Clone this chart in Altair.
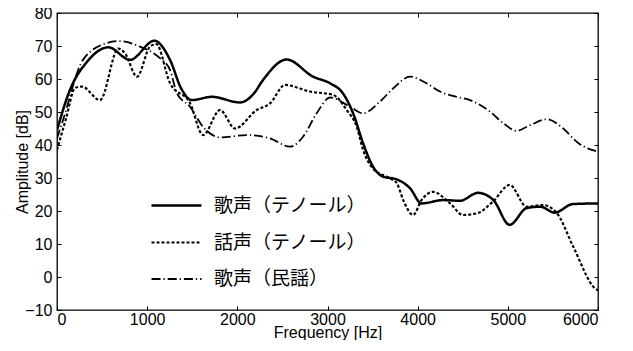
import altair as alt
import pandas as pd

series_names = ["歌声（テノール）", "話声（テノール）", "歌声（民謡）"]

# 歌声（テノール） — solid
sing_tenor_freq = [0, 144, 333, 570, 810, 1080, 1250, 1380, 1494, 1716, 2030, 2180, 2285, 2547, 2840, 3028,
                   3170, 3284, 3395, 3506, 3617, 3767, 3915, 4043, 4281, 4470, 4669, 4840, 5020, 5210,
                   5360, 5520, 5720, 6000]
sing_tenor_amp = [44.5, 56.7, 65.2, 69.6, 65.8, 71.6, 66.0, 57.0, 53.6, 54.6, 52.9, 55.5, 59.7, 65.9, 60.7, 58.7,
                  55.7, 49.6, 40.5, 33.4, 30.4, 29.6, 26.9, 22.3, 23.3, 23.1, 25.5, 23.3, 15.8, 20.9,
                  21.3, 19.5, 22.1, 22.3]

# 話声（テノール） — dashed
speech_tenor_freq = [0, 100, 200, 277, 477, 680, 754, 887, 1031, 1100, 1254, 1475, 1620, 1808, 1974, 2214,
                     2362, 2529, 2806, 3060, 3213, 3324, 3395, 3500, 3693, 3767, 3840, 3950, 4043, 4170,
                     4360, 4503, 4669, 4840, 5020, 5210, 5390, 5545, 5725, 5966, 6000]
speech_tenor_amp = [38.5, 48.0, 57.3, 57.7, 53.6, 69.2, 67.8, 60.7, 69.8, 70.6, 58.7, 52.7, 43.0, 50.6, 45.0, 50.6,
                    52.6, 58.2, 56.2, 55.2, 50.6, 45.5, 38.5, 33.0, 29.9, 28.5, 23.3, 18.8, 23.3, 25.8,
                    22.3, 18.8, 19.4, 23.0, 27.9, 21.3, 21.8, 19.3, 9.2, -3.4, -4.0]

# 歌声（民謡） — dash-dot
sing_folk_freq = [0, 67, 288, 555, 700, 920, 1142, 1254, 1330, 1475, 1620, 1808, 2104, 2362, 2584, 2729,
                  2880, 3028, 3250, 3395, 3580, 3730, 3915, 4100, 4247, 4432, 4580, 4802, 4950, 5098,
                  5246, 5430, 5615, 5763, 5930, 6000]
sing_folk_amp = [42.0, 47.6, 65.8, 70.9, 71.5, 69.8, 66.3, 62.7, 55.7, 51.6, 45.5, 42.3, 43.0, 42.0, 39.5, 42.5,
                 49.6, 54.4, 51.6, 49.6, 53.1, 57.2, 60.7, 58.7, 56.2, 54.6, 53.6, 50.1, 46.6, 44.3,
                 46.0, 47.8, 45.0, 41.0, 38.5, 38.0]

x_ticks = [0, 1000, 2000, 3000, 4000, 5000, 6000]
y_ticks = [-10, 0, 10, 20, 30, 40, 50, 60, 70, 80]

rows = []
for name, fs, amps in [
    (series_names[0], sing_tenor_freq, sing_tenor_amp),
    (series_names[1], speech_tenor_freq, speech_tenor_amp),
    (series_names[2], sing_folk_freq, sing_folk_amp),
]:
    for f, a in zip(fs, amps):
        rows.append({"freq": f, "amp": a, "series": name})
df = pd.DataFrame(rows)

xscale = alt.Scale(domain=[0, 6000], nice=False, zero=False)
yscale = alt.Scale(domain=[-10, 80], nice=False, zero=False)

tick_font = "Liberation Sans"

legend = alt.Legend(
    title=None, orient="none", legendX=93, legendY=166, padding=0,
    symbolType="stroke", symbolSize=2500, symbolStrokeColor="black",
    labelFont="Noto Sans CJK JP", labelFontSize=19, labelColor="black",
    labelOffset=11, rowPadding=-4, labelLimit=300,
)

lines = alt.Chart(df).mark_line(interpolate="monotone", color="black", clip=True).encode(
    x=alt.X("freq:Q", scale=xscale, axis=alt.Axis(
        orient="bottom", values=x_ticks, format="d", title="Frequency [Hz]", grid=False, domain=False,
        offset=-4, tickSize=4, tickColor="black", tickWidth=1, labelPadding=1,
        labelFont=tick_font, labelFontSize=16, labelColor="black",
        titleFont=tick_font, titleFontSize=16, titleFontWeight="normal", titleColor="black",
        titleBaseline="alphabetic", titleY=31)),
    y=alt.Y("amp:Q", scale=yscale, axis=alt.Axis(
        orient="left", values=y_ticks, title="Amplitude [dB]", grid=False, domain=False,
        offset=-4, tickSize=4, tickColor="black", tickWidth=1, labelPadding=5,
        labelFont=tick_font, labelFontSize=16, labelColor="black",
        titleFont=tick_font, titleFontSize=16, titleFontWeight="normal", titleColor="black",
        titleX=-39, titleBaseline="middle")),
    strokeDash=alt.StrokeDash("series:N", scale=alt.Scale(domain=series_names,
                              range=[[1, 0], [3, 2], [9, 3, 1.2, 3]]), legend=legend),
    strokeWidth=alt.StrokeWidth("series:N", scale=alt.Scale(domain=series_names,
                                range=[2.5, 1.8, 2.5]), legend=legend),
)

ticks_only = alt.Chart(df).mark_line(opacity=0).encode(
    x=alt.X("freq:Q", scale=xscale, axis=alt.Axis(
        orient="top", values=x_ticks, labels=False, title=None, grid=False, domain=False,
        offset=-4, tickSize=4, tickColor="black", tickWidth=1)),
    y=alt.Y("amp:Q", scale=yscale, axis=alt.Axis(
        orient="right", values=y_ticks, labels=False, title=None, grid=False, domain=False,
        offset=-4, tickSize=4, tickColor="black", tickWidth=1)),
    detail="series:N",
)

chart = alt.layer(lines, ticks_only).resolve_axis(x="independent", y="independent").properties(
    width=541, height=297,
    autosize=alt.AutoSizeParams(type="none"),
    padding={"left": 49, "top": 5, "right": 27, "bottom": 30},
    background="white",
).configure_view(stroke="black", strokeWidth=1.3)

chart.save("out.html", embed_options={"renderer": "svg", "actions": False})
